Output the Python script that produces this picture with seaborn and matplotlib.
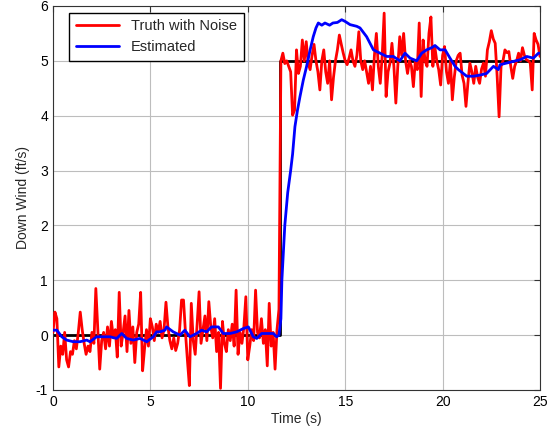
import numpy as np
import pandas as pd
import matplotlib
matplotlib.use("Agg")
import matplotlib.pyplot as plt
import seaborn as sns

# Truth with noise, sampled every 0.1 s from 0 to 25 s
noisy_time = np.round(np.arange(0, 25.01, 0.1), 1)
noisy_wind = [
    # 0 - 0.9
    0.05, 0.42, 0.30, -0.58, -0.20, -0.35, 0.05, -0.45, -0.58, -0.30,
    # 1 - 1.9
    -0.35, -0.10, -0.25, 0.05, 0.42, 0.10, -0.15, -0.35, -0.20, -0.30,
    # 2 - 2.9
    0.05, -0.15, 0.85, 0.10, -0.62, -0.10, 0.05, -0.25, 0.15, -0.20,
    # 3 - 3.9
    0.25, -0.05, 0.10, -0.40, 0.78, -0.20, 0.05, 0.35, -0.30, 0.45,
    # 4 - 4.9
    -0.15, 0.15, -0.50, 0.05, 0.20, 0.78, -0.65, -0.25, 0.10, -0.20,
    # 5 - 5.9
    0.30, 0.15, -0.10, 0.20, 0.05, 0.25, -0.05, 0.10, 0.60, 0.15,
    # 6 - 6.9
    -0.10, -0.25, -0.05, -0.28, -0.15, 0.10, 0.64, 0.64, 0.05, -0.45,
    # 7 - 7.9
    -0.92, 0.58, -0.10, -0.35, 0.20, 0.79, -0.15, 0.10, 0.35, -0.10,
    # 8 - 8.9
    0.61, 0.15, -0.05, 0.30, -0.30, 0.05, -0.97, 0.25, -0.15, -0.30,
    # 9 - 9.9
    0.10, -0.10, 0.20, -0.20, 0.82, -0.35, 0.05, -0.15, 0.15, 0.70,
    # 10 - 10.9
    -0.45, -0.20, 0.10, -0.10, 0.82, 0.05, -0.05, 0.30, -0.15, 0.10,
    # 11 - 11.9
    -0.56, 0.58, -0.20, 0.05, -0.62, 0.10, 0.47, 5.00, 5.14, 4.95,
    # 12 - 12.9
    5.00, 4.90, 4.80, 4.01, 4.10, 5.20, 4.77, 4.90, 5.38, 5.00,
    # 13 - 13.9
    5.35, 4.95, 4.84, 5.10, 5.30, 5.00, 4.80, 4.47, 5.00, 5.20,
    # 14 - 14.9
    4.80, 4.59, 5.00, 4.29, 4.70, 5.00, 5.20, 5.47, 5.30, 5.14,
    # 15 - 15.9
    5.00, 4.93, 5.05, 5.20, 5.00, 4.90, 5.10, 5.53, 5.00, 4.84,
    # 16 - 16.9
    5.00, 4.80, 4.59, 4.90, 4.47, 5.10, 5.50, 4.90, 4.59, 5.10,
    # 17 - 17.9
    5.87, 4.35, 4.80, 4.96, 5.32, 4.90, 4.23, 4.90, 5.44, 5.10,
    # 18 - 18.9
    5.50, 5.00, 4.77, 5.00, 4.90, 4.53, 5.00, 4.84, 5.69, 4.35,
    # 19 - 19.9
    5.38, 5.00, 4.90, 5.50, 5.80, 4.90, 5.26, 5.00, 4.84, 4.56,
    # 20 - 20.9
    5.10, 5.26, 4.80, 4.59, 5.00, 4.29, 4.70, 5.00, 5.10, 5.14,
    # 21 - 21.9
    4.74, 4.59, 4.17, 4.60, 4.96, 4.80, 4.59, 4.90, 4.70, 4.59,
    # 22 - 22.9
    4.85, 4.96, 4.72, 5.20, 5.35, 5.55, 5.40, 5.32, 4.72, 3.98,
    # 23 - 23.9
    4.90, 5.00, 5.20, 5.15, 5.17, 4.90, 4.68, 4.90, 5.00, 5.14,
    # 24 - 25.0
    5.00, 5.24, 5.10, 5.02, 5.00, 4.96, 4.47, 5.50, 5.38, 5.30, 5.08,
]

# Estimated down wind (filter output)
est_time = [
    0.0, 0.2, 0.45, 0.7, 1.04, 1.39, 1.73, 1.9, 2.24, 2.58, 2.93, 3.27,
    3.53, 3.78, 4.12, 4.47, 4.81, 5.15, 5.32, 5.49, 5.75, 5.83, 6.17,
    6.52, 6.77, 7.03, 7.37, 7.63, 7.89, 8.14, 8.49, 8.74, 9.09, 9.43,
    9.77, 10.03, 10.28, 10.46, 10.71, 11.06, 11.31, 11.48, 11.6, 11.7,
    11.75, 11.9, 12.05, 12.2, 12.3, 12.42, 12.55, 12.68, 12.85, 13.02,
    13.2, 13.36, 13.5, 13.62, 13.8, 13.96, 14.2, 14.37, 14.6, 14.82,
    14.99, 15.25, 15.59, 15.76, 16.1, 16.45, 16.79, 17.13, 17.47, 17.81,
    18.07, 18.33, 18.67, 18.93, 19.18, 19.44, 19.61, 19.87, 20.13,
    20.38, 20.64, 20.81, 21.06, 21.24, 21.58, 21.92, 22.26, 22.61,
    22.86, 22.95, 23.29, 23.63, 23.98, 24.32, 24.66, 24.92, 25.0,
]
est_wind = [
    0.09, 0.09, -0.03, -0.09, -0.12, -0.12, -0.09, -0.12, -0.03, -0.03,
    -0.03, -0.06, 0.03, -0.06, -0.09, -0.06, -0.12, -0.03, 0.06, 0.06,
    0.09, 0.15, 0.06, 0.0, 0.09, -0.03, 0.03, 0.09, 0.06, 0.15, 0.15,
    0.03, 0.03, 0.06, 0.12, 0.15, -0.03, -0.06, 0.03, 0.03, 0.03, -0.03,
    0.0, 0.3, 1.0, 2.0, 2.6, 3.0, 3.3, 3.8, 4.1, 4.35, 4.65, 4.9, 5.2,
    5.44, 5.6, 5.69, 5.65, 5.69, 5.65, 5.69, 5.70, 5.75, 5.72, 5.66,
    5.63, 5.6, 5.44, 5.2, 5.14, 5.08, 5.08, 5.0, 5.14, 5.05, 5.0, 5.14,
    5.2, 5.24, 5.28, 5.2, 5.2, 5.05, 4.9, 4.84, 4.77, 4.72, 4.72, 4.74,
    4.77, 4.90, 4.84, 4.93, 4.96, 4.99, 5.02, 5.08, 5.05, 5.14, 5.14,
]

# True down wind: a step from 0 to 5 ft/s
truth_time = [0.0, 11.65, 11.65, 25.0]
truth_wind = [0.0, 0.0, 5.0, 5.0]

x_ticks = [0, 5, 10, 15, 20, 25]
y_ticks = [-1, 0, 1, 2, 3, 4, 5, 6]


def main():
    sns.set_style("white")
    plt.rcParams["font.family"] = ["Liberation Sans", "DejaVu Sans"]
    plt.rcParams["font.size"] = 10
    plt.rcParams["axes.unicode_minus"] = False

    noisy_df = pd.DataFrame({"t": noisy_time, "w": noisy_wind})
    est_df = pd.DataFrame({"t": est_time, "w": est_wind})
    truth_df = pd.DataFrame({"t": truth_time, "w": truth_wind})

    fig = plt.figure(figsize=(5.53, 4.34), dpi=100)
    ax = fig.add_axes([0.0958, 0.1014, 0.8807, 0.8848])

    sns.lineplot(data=noisy_df, x="t", y="w", ax=ax, color="#ff0000",
                 linewidth=2, sort=False, estimator=None,
                 label="Truth with Noise", zorder=3)
    sns.lineplot(data=est_df, x="t", y="w", ax=ax, color="#0000ff",
                 linewidth=2, sort=False, estimator=None,
                 label="Estimated", zorder=4)
    sns.lineplot(data=truth_df, x="t", y="w", ax=ax, color="black",
                 linewidth=2, sort=False, estimator=None,
                 legend=False, zorder=2)

    ax.set_xlim(0, 25)
    ax.set_ylim(-1, 6)
    ax.set_xticks(x_ticks)
    ax.set_yticks(y_ticks)
    ax.grid(True, color="#bdbdbd", linewidth=0.8, linestyle="-")
    ax.set_axisbelow(True)
    for side in ax.spines.values():
        side.set_color("#333333")
        side.set_linewidth(0.8)
    ax.tick_params(direction="in", length=4, width=0.8, top=True,
                   right=True, colors="#333333", labelcolor="black",
                   labelsize=10)

    ax.set_xlabel("Time (s)", fontsize=10, labelpad=2)
    ax.set_ylabel("Down Wind (ft/s)", fontsize=10, labelpad=4)

    leg = ax.legend(loc="upper left", bbox_to_anchor=(0.033, 0.982),
                    borderaxespad=0, frameon=True, fancybox=False,
                    edgecolor="black", framealpha=1, fontsize=10.5,
                    handlelength=3.0, borderpad=0.45, labelspacing=0.45)
    leg.get_frame().set_linewidth(1.0)

    fig.savefig("out.png", dpi=100)
    plt.close(fig)


if __name__ == "__main__":
    main()
